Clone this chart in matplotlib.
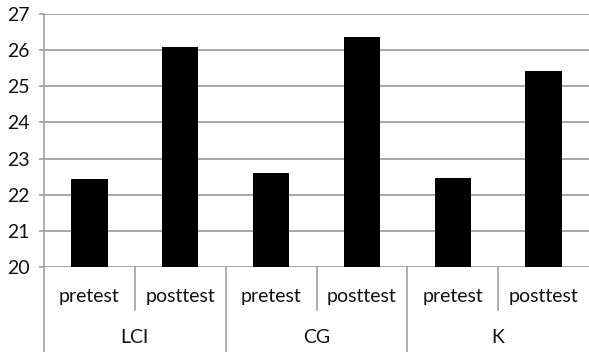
import matplotlib.pyplot as plt
import numpy as np

# data
groups = ["LCI", "CG", "K"]
tests = ["pretest", "posttest"]
values = [22.43, 26.09, 22.61, 26.35, 22.45, 25.42]
yticks = [20, 21, 22, 23, 24, 25, 26, 27]

plt.rcParams['font.family'] = ['Lato', 'DejaVu Sans']
grid_col = "#a0a0a0"
txt_col = "#111111"
fs = 14

fig = plt.figure(figsize=(5.89, 3.52), dpi=100)
W, H = 589, 352
ax = fig.add_axes([44 / W, (H - 267) / H, (W - 44) / W, 253 / H])

x = np.arange(len(values)) + 0.5
ax.bar(x, values, width=0.4, bottom=0, color="black", zorder=3)
ax.set_xlim(0, len(values))
ax.set_ylim(20, 27)
ax.set_yticks(yticks)
ax.set_yticklabels([str(t) for t in yticks], fontsize=fs, color=txt_col)
ax.yaxis.grid(True, color=grid_col, linewidth=1.3, zorder=0)
ax.tick_params(axis="y", length=3.6, width=1.2, color=grid_col, pad=6.5)
ax.set_xticks([])
for s in ["top", "right", "bottom"]:
    ax.spines[s].set_visible(False)
ax.spines["left"].set_color(grid_col)
ax.spines["left"].set_linewidth(1.2)

trans = ax.get_xaxis_transform()
# left axis line running down through the category area
ax.plot([0, 0], [0, -0.34], color=grid_col, lw=1.2, transform=trans, clip_on=False)

sub_y = -0.115
grp_y = -0.28
for i, xi in enumerate(x):
    ax.text(xi, sub_y, tests[i % 2], transform=trans, ha="center", va="center",
            fontsize=fs, color=txt_col)
for g, name in enumerate(groups):
    ax.text(2 * g + 1, grp_y, name, transform=trans, ha="center", va="center",
            fontsize=fs, color=txt_col)
    # divider between pretest and posttest
    ax.plot([2 * g + 1, 2 * g + 1], [0, -0.17], color=grid_col, lw=1.2,
            transform=trans, clip_on=False)
    if g > 0:
        ax.plot([2 * g, 2 * g], [0, -0.34], color=grid_col, lw=1.2,
                transform=trans, clip_on=False)

fig.savefig("out.png", dpi=100)
